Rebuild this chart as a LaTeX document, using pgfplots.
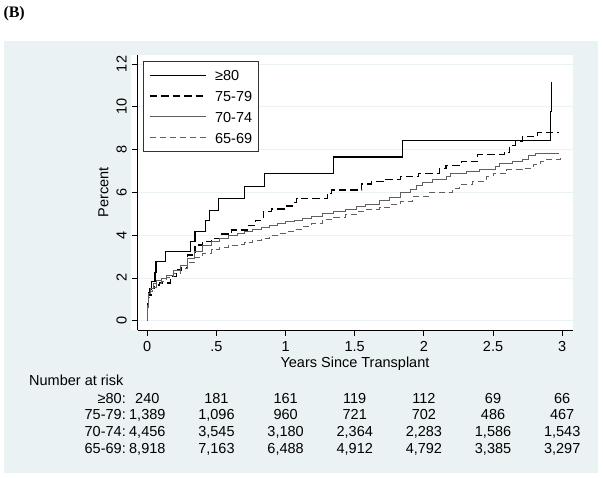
\documentclass[border=0pt]{standalone}
\usepackage{pgfplots}
\pgfplotsset{compat=1.18}
\usepackage{fontspec}
\setmainfont{Liberation Sans}
\newfontfamily\serifbold{Liberation Serif}
\definecolor{stbg}{RGB}{234,242,243}
\definecolor{midgray}{RGB}{96,96,96}
\newcommand\fs{\fontsize{14.5}{17}\selectfont}
\newcommand\legtext[1]{\hspace{9pt}#1\hspace{6.5pt}}
\begin{document}
\begin{tikzpicture}[x=1pt,y=1pt]
% page and Stata graph region
\path[use as bounding box] (0,0) rectangle (603,478);
\fill[white] (0,0) rectangle (603,478);
\fill[stbg] (4,5) rectangle (598,437);
\fill[white] (131,148) rectangle (573,423);
\node[anchor=base west, inner sep=0pt, font=\serifbold\bfseries\fontsize{16}{19}\selectfont] at (3.3,460.7) {(B)};

\begin{axis}[
  at={(137.7pt,148pt)}, anchor=south west,
  width=435pt, height=275pt, scale only axis,
  xmin=-0.069, xmax=3.076, ymin=-0.435, ymax=12.42,
  axis x line*=bottom, axis y line*=left,
  axis line style={line width=0.8pt, -},
  xtick={0,0.5,1,1.5,2,2.5,3}, xticklabels={0,.5,1,1.5,2,2.5,3},
  ytick={0,2,4,6,8,10,12},
  tick align=outside, major tick length=6pt,
  tick style={line width=0.8pt, black},
  ymajorgrids, grid style={line width=0.8pt, stbg},
  ticklabel style={font=\fs},
  xticklabel style={yshift=-2pt},
  yticklabel style={xshift=-1.5pt, rotate=90, anchor=south},
  /pgf/number format/assume math mode=true,
  xlabel={Years Since Transplant}, ylabel={Percent},
  label style={font=\fs},
  xlabel style={at={(axis description cs:0.4995,-0.1364)}, anchor=base},
  ylabel style={at={(axis description cs:-0.0786,0.5)}, anchor=center},
  legend image code/.code={\draw[#1] (0pt,0pt) -- (56pt,0pt);},
  legend style={at={(axis description cs:0.0115,0.978)}, anchor=north west,
    draw=black!80, line width=0.6pt, fill=white, font=\fs,
    inner xsep=6pt, inner ysep=6.5pt, row sep=6.4pt,
    cells={anchor=west},
    nodes={text height=10.5pt, text depth=0pt, inner xsep=0pt, inner ysep=2pt}},
]

% >=80
\addplot[const plot, black, line width=1.1pt] coordinates {
(0,0) (0.004,0.8) (0.01,1.3) (0.02,1.5) (0.032,1.82) (0.056,2.25) (0.063,2.78)
(0.133,3.24) (0.314,3.72) (0.345,4.17) (0.424,4.67) (0.453,5.17) (0.518,5.73)
(0.70,6.29) (0.846,6.87) (1.345,7.65) (1.847,8.41) (2.915,9.77) (2.925,11.15)
};
\addlegendentry{\legtext{≥80}}

% 75-79
\addplot[const plot, black, line width=1.1pt, dash pattern=on 7.5pt off 4pt] coordinates {
(0,0) (0.004,0.8) (0.01,1.2) (0.03,1.5) (0.05,1.67) (0.09,1.76) (0.165,2.06)
(0.21,2.37) (0.25,2.5) (0.29,3.07) (0.345,3.54) (0.40,3.7) (0.465,3.85)
(0.54,4.05) (0.61,4.24) (0.73,4.47) (0.78,4.7) (0.84,5.1) (0.9,5.22) (1.0,5.36)
(1.05,5.52) (1.08,5.72) (1.30,5.95) (1.33,6.11) (1.55,6.39) (1.62,6.5)
(1.71,6.61) (1.83,6.73) (1.96,6.89) (2.11,7.1) (2.16,7.25) (2.27,7.43)
(2.39,7.76) (2.58,7.85) (2.62,8.2) (2.66,8.37) (2.71,8.6) (2.82,8.78) (2.98,8.78)
};
\addlegendentry{\legtext{75-79}}

% 70-74
\addplot[const plot, midgray, line width=1.0pt] coordinates {
(0,0) (0.003,0.7) (0.007,1.25) (0.02,1.5) (0.044,1.75) (0.07,1.88) (0.1,1.97)
(0.14,2.1) (0.19,2.35) (0.24,2.6) (0.29,2.92) (0.345,3.25) (0.4,3.5) (0.465,3.72)
(0.52,3.85) (0.585,3.96) (0.65,4.06) (0.705,4.16) (0.76,4.27) (0.825,4.37)
(0.885,4.46) (0.945,4.55) (1.0,4.63) (1.065,4.7) (1.12,4.78) (1.19,4.88)
(1.27,5.0) (1.35,5.1) (1.43,5.2) (1.51,5.32) (1.58,5.42) (1.68,5.6) (1.755,5.78)
(1.83,6.0) (1.9,6.15) (1.95,6.3) (1.99,6.46) (2.06,6.59) (2.16,6.74) (2.19,6.87)
(2.31,6.98) (2.40,7.09) (2.52,7.21) (2.55,7.34) (2.64,7.44) (2.71,7.52)
(2.76,7.72) (2.81,7.8) (2.98,7.8)
};
\addlegendentry{\legtext{70-74}}

% 65-69
\addplot[const plot, midgray, line width=1.0pt, dash pattern=on 6pt off 4pt] coordinates {
(0,0) (0.003,0.6) (0.007,1.1) (0.02,1.35) (0.04,1.55) (0.07,1.72) (0.1,1.85)
(0.14,2.0) (0.19,2.2) (0.24,2.45) (0.29,2.7) (0.345,2.95) (0.4,3.15) (0.465,3.32)
(0.52,3.42) (0.585,3.5) (0.65,3.57) (0.705,3.65) (0.76,3.75) (0.825,3.86)
(0.885,3.97) (0.945,4.08) (1.0,4.17) (1.065,4.28) (1.12,4.4) (1.19,4.55)
(1.27,4.71) (1.35,4.83) (1.43,4.97) (1.51,5.1) (1.58,5.2) (1.68,5.3) (1.755,5.42)
(1.83,5.58) (1.92,5.81) (2.04,6.0) (2.16,6.0) (2.21,6.2) (2.26,6.36) (2.35,6.51)
(2.45,6.74) (2.50,6.9) (2.60,7.06) (2.71,7.13) (2.79,7.29) (2.84,7.44)
(2.88,7.52) (2.99,7.6)
};
\addlegendentry{\legtext{65-69}}
\end{axis}

% number at risk table
\node[anchor=base west, inner sep=0pt, font=\fs] at (29,92) {Number at risk};
\foreach \lab/\yb in {≥80/74.7, 75-79/58, 70-74/41.3, 65-69/24.7}
  \node[anchor=base east, inner sep=0pt, font=\fs] at (126,\yb) {\lab:};
\foreach \t/\a/\b/\c/\d in {0/240/{1,389}/{4,456}/{8,918},
    0.5/181/{1,096}/{3,545}/{7,163}, 1/161/960/{3,180}/{6,488},
    1.5/119/721/{2,364}/{4,912}, 2/112/702/{2,283}/{4,792},
    2.5/69/486/{1,586}/{3,385}, 3/66/467/{1,543}/{3,297}} {
  \pgfmathsetmacro\xx{147.3+138.3*\t}
  \node[anchor=base, inner sep=0pt, font=\fs] at (\xx,74.7) {\a};
  \node[anchor=base, inner sep=0pt, font=\fs] at (\xx,58) {\b};
  \node[anchor=base, inner sep=0pt, font=\fs] at (\xx,41.3) {\c};
  \node[anchor=base, inner sep=0pt, font=\fs] at (\xx,24.7) {\d};
}
\end{tikzpicture}
\end{document}
